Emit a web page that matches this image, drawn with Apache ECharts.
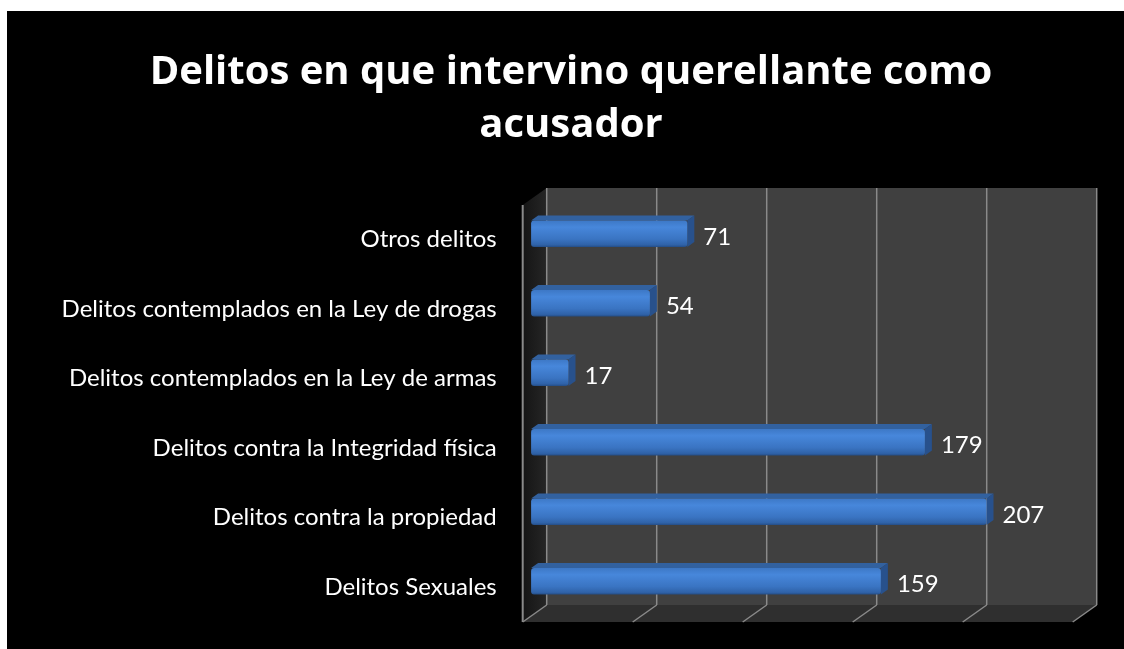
<!DOCTYPE html>
<html><head><meta charset="utf-8">
<script src="https://cdn.jsdelivr.net/npm/echarts@6/dist/echarts.min.js"></script>
<style>html,body{margin:0;padding:0;background:#fff}#c{width:1124px;height:649px}</style>
</head><body><div id="c"></div>
<script>
// ---- data ----
const categories = [
  'Delitos Sexuales',
  'Delitos contra la propiedad',
  'Delitos contra la Integridad física',
  'Delitos contemplados en la Ley de armas',
  'Delitos contemplados en la Ley de drogas',
  'Otros delitos'
];
const values = [159, 207, 179, 17, 54, 71];
const valueTicks = [0, 50, 100, 150, 200, 250];
const titleText = 'Delitos en que intervino querellante como\nacusador';

// ---- style constants (3D depth offset) ----
const DX = 24, DY = -17;
const FONT = 'Lato, "Open Sans", sans-serif';
const TFONT = '"Open Sans", Lato, sans-serif';

function renderFrame(params, api) {
  const cs = params.coordSys;
  const x0 = cs.x, y0 = cs.y, x1 = cs.x + cs.width, y1 = cs.y + cs.height;
  const ch = [];
  ch.push({type: 'rect', shape: {x: x0 + DX, y: y0 + DY, width: cs.width, height: cs.height}, style: {fill: '#404040'}});
  ch.push({type: 'polygon', shape: {points: [[x0 + DX, y1 + DY], [x1 + DX, y1 + DY], [x1, y1], [x0, y1]]}, style: {fill: '#2f2f2f'}});
  ch.push({type: 'polygon', shape: {points: [[x0, y0], [x0 + DX, y0 + DY], [x0 + DX, y1 + DY], [x0, y1]]},
    style: {fill: new echarts.graphic.LinearGradient(0, 0, 1, 0, [{offset: 0, color: '#151515'}, {offset: 1, color: '#262626'}])}});
  valueTicks.forEach(function (v) {
    const px = api.coord([v, 0])[0];
    ch.push({type: 'line', shape: {x1: px + DX, y1: y0 + DY, x2: px + DX, y2: y1 + DY}, style: {stroke: '#8a8a8a', lineWidth: 1.5}});
    ch.push({type: 'line', shape: {x1: px + DX, y1: y1 + DY, x2: px, y2: y1}, style: {stroke: '#8a8a8a', lineWidth: 1.5}});
  });
  ch.push({type: 'line', shape: {x1: x0, y1: y0, x2: x0, y2: y1}, style: {stroke: '#8a8a8a', lineWidth: 2}});
  return {type: 'group', children: ch};
}

function renderBar(params, api) {
  const v = api.value(0), i = api.value(1);
  const s = api.coord([0, i]), e = api.coord([v, i]);
  const band = api.size([0, 1])[1];
  const fd = 0.35;
  const xa = s[0] + DX * fd, xb = e[0] + DX * fd;
  const cy = s[1] + DY * fd;
  const h = band * 0.38;
  const fy0 = cy - h / 2, fy1 = cy + h / 2;
  const tdx = 7, tdy = -5;
  return {type: 'group', children: [
    {type: 'polygon', shape: {points: [[xa, fy0], [xb, fy0], [xb + tdx, fy0 + tdy], [xa + tdx, fy0 + tdy]]}, style: {fill: '#32619f'}},
    {type: 'polygon', shape: {points: [[xb, fy0], [xb + tdx, fy0 + tdy], [xb + tdx, fy1 + tdy], [xb, fy1]]}, style: {fill: '#28518c'}},
    {type: 'rect', shape: {x: xa, y: fy0, width: xb - xa, height: h, r: 3},
      style: {fill: new echarts.graphic.LinearGradient(0, 0, 0, 1, [
        {offset: 0, color: '#3d78c6'}, {offset: 0.25, color: '#4787db'}, {offset: 0.7, color: '#3a74c2'},
        {offset: 0.92, color: '#2f62a8'}, {offset: 1, color: '#244d86'}])}},
    {type: 'text', x: xb + tdx + 9, y: cy + 3, style: {text: String(v), fill: '#ffffff', font: '24px ' + FONT, verticalAlign: 'middle', align: 'left'}}
  ]};
}

const chart = echarts.init(document.getElementById('c'), null, {renderer: 'canvas'});
chart.setOption({
  backgroundColor: '#ffffff',
  animation: false,
  graphic: [{type: 'rect', z: -100, shape: {x: 7, y: 11, width: 1117, height: 638}, style: {fill: '#000000'}, silent: true}],
  title: {
    text: titleText, left: 571, top: 46, padding: 0, textAlign: 'center',
    textStyle: {color: '#ffffff', fontFamily: TFONT, fontWeight: 'bold', fontSize: 40, lineHeight: 53}
  },
  grid: {left: 522.7, top: 205, width: 550, height: 417, containLabel: false},
  xAxis: {type: 'value', min: 0, max: 250, interval: 50, show: false},
  yAxis: {
    type: 'category', data: categories,
    axisLine: {show: false}, axisTick: {show: false}, splitLine: {show: false},
    axisLabel: {color: '#ffffff', fontFamily: FONT, fontSize: 24, margin: 26, padding: [13, 0, 0, 0]}
  },
  series: [
    {type: 'custom', z: 1, renderItem: renderFrame, data: [[0, 0]], encode: {x: 0, y: 1}, silent: true},
    {type: 'custom', z: 2, renderItem: renderBar, data: values.map(function (v, i) { return [v, i]; }), encode: {x: 0, y: 1}}
  ]
});
</script></body></html>
